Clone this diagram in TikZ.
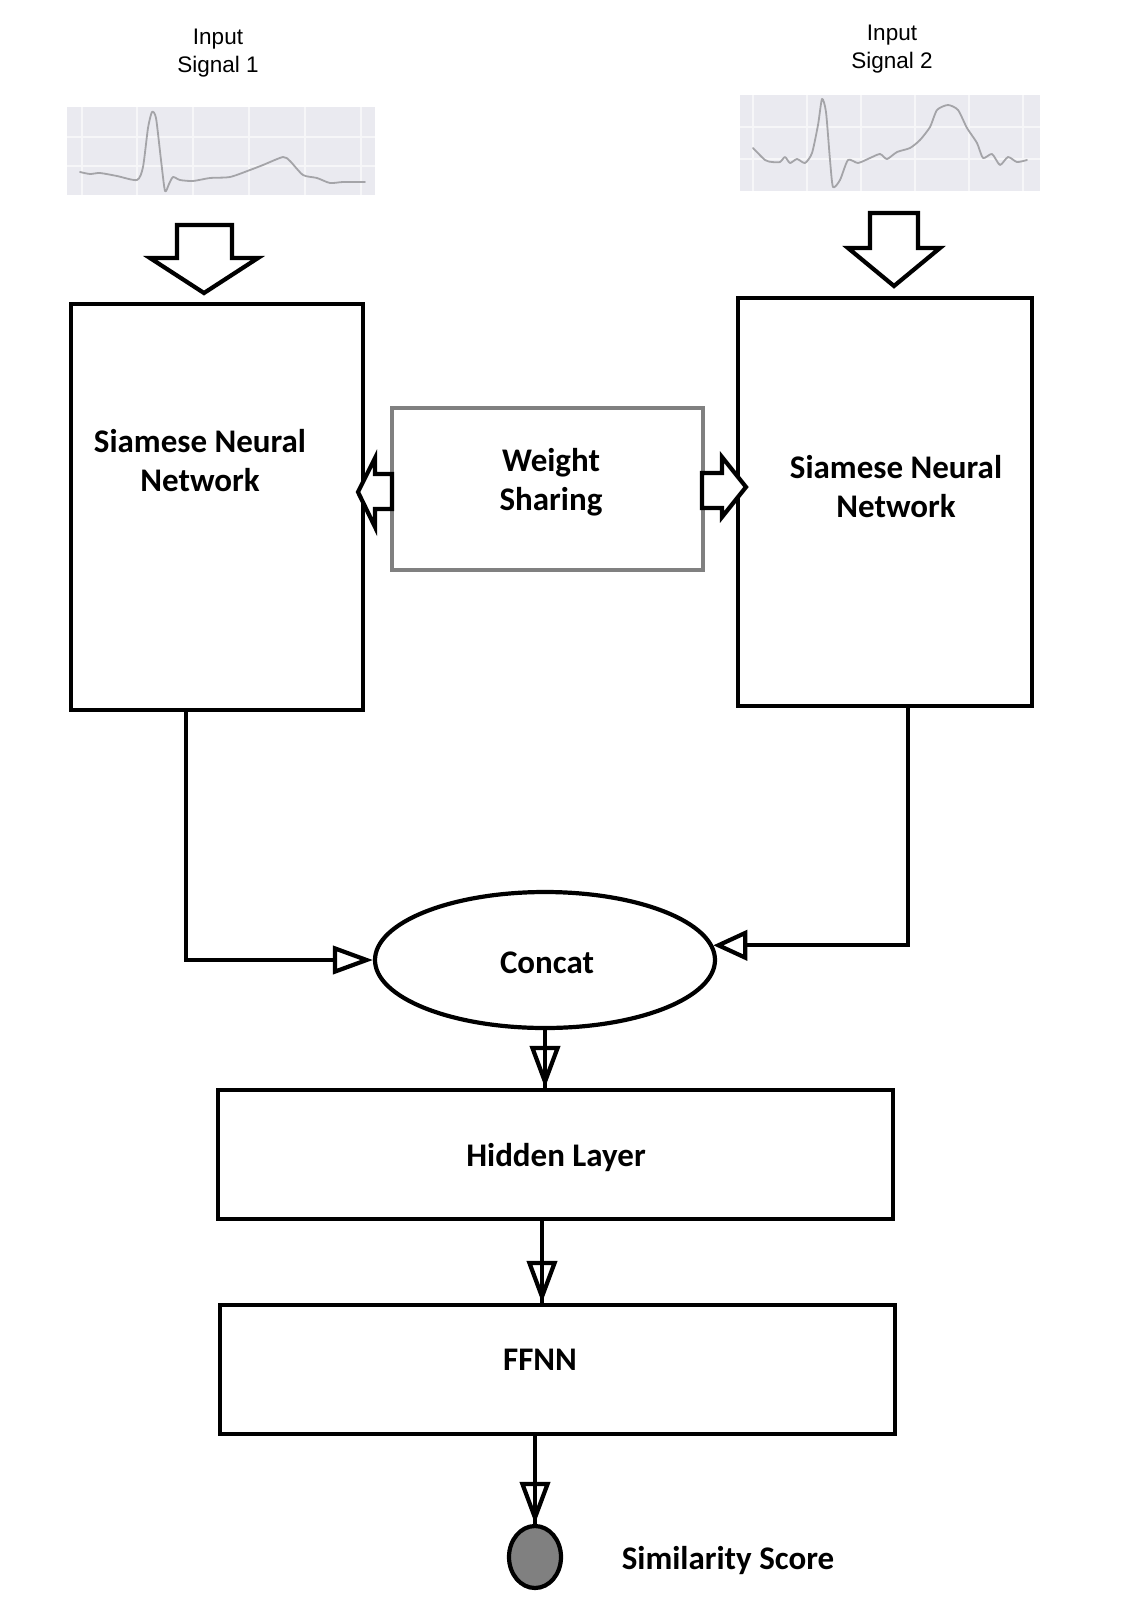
\documentclass[tikz,border=0pt]{standalone}
\usepackage{fontspec}
\setmainfont{Carlito}
\newfontfamily\arialf{Liberation Sans}
\usetikzlibrary{arrows.meta,shapes.geometric,calc}
\definecolor{ecgbg}{HTML}{EAEAF0}
\definecolor{ecgline}{HTML}{A4A4A8}
\definecolor{ecggrid}{HTML}{F6F6F8}
\definecolor{wsgray}{HTML}{808080}
\begin{document}
\begin{tikzpicture}[x=1pt,y=-1pt,
  thick box/.style={draw,line width=4.2pt,rectangle,inner sep=0pt,fill=white},
  lbl/.style={font=\bfseries\fontsize{33}{39}\selectfont,align=center,inner sep=0pt},
  inlbl/.style={font=\arialf\fontsize{22.5}{28}\selectfont,align=center,inner sep=0pt},
  ecg/.style={fill=ecgbg,draw=none,rectangle,inner sep=0pt},
  grid line/.style={ecggrid,line width=1.2pt},
  trace/.style={ecgline,line width=1.8pt,line join=round,line cap=round},
  conn/.style={line width=4.2pt},
  blockarrow/.style={draw,fill=white,line width=4.2pt,line join=miter},
  tipa/.style={-{Triangle[open,length=40pt,width=28pt]}},
  tipb/.style={-{Triangle[open,length=34pt,width=30pt]}},
  tipv/.style={-{Triangle[open,length=42pt,width=30pt]}}
]
\useasboundingbox[fill=white] (0,0) rectangle (1123,1615);

% ---- input signals ----
\node[inlbl] (in1) at (218,53) {Input\\Signal 1};
\node[inlbl] (in2) at (892,49) {Input\\Signal 2};

\node[ecg,minimum width=308pt,minimum height=88pt] (sig1) at (221,151) {};
\foreach \gx in {82,137,193,249,305,361}
  \draw[grid line] (\gx,107) -- (\gx,195);
\foreach \gy in {137,166}
  \draw[grid line] (67,\gy) -- (375,\gy);
\draw[trace] plot[smooth,tension=0.4] coordinates {
 (80,172) (90,174) (100,173) (117,176) (137,180) (143,167) (148,128) (152,112) (156,118)
 (161,160) (165,191) (169,184) (173,177) (180,180) (193,181) (210,178) (230,177)
 (250,170) (263,165) (283,157) (290,161) (303,175) (317,178) (330,183) (343,182) (365,182)};

\node[ecg,minimum width=300pt,minimum height=96pt] (sig2) at (890,143) {};
\foreach \gx in {753,807,861,915,969,1023}
  \draw[grid line] (\gx,95) -- (\gx,191);
\foreach \gy in {127,159}
  \draw[grid line] (740,\gy) -- (1040,\gy);
\draw[trace] plot[smooth,tension=0.4] coordinates {
 (753,148) (765,160) (772,162) (780,162) (785,157) (790,163) (797,159) (805,163)
 (812,153) (818,125) (822,99) (826,112) (830,160) (833,187) (840,180) (848,160) (858,163)
 (870,158) (880,154) (887,159) (897,152) (910,148) (920,140) (930,127) (937,110)
 (948,105) (958,110) (967,128) (977,143) (983,158) (992,154) (1000,165) (1008,157)
 (1017,162) (1027,160)};

% ---- main boxes ----
\node[thick box,minimum width=292pt,minimum height=406pt] (snnL) at (217,507) {};
\node[thick box,minimum width=294pt,minimum height=408pt] (snnR) at (885,502) {};
\node[thick box,draw=wsgray,minimum width=311pt,minimum height=162pt] (ws) at (547.5,489) {};
\node[lbl] (snnLt) at (200,461) {Siamese Neural\\Network};
\node[lbl] (snnRt) at (896,487) {Siamese Neural\\Network};
\node[lbl] (wst) at (551,482) {Weight\\Sharing};

\node[draw,ellipse,line width=4.2pt,inner sep=0pt,minimum width=340pt,minimum height=136pt] (concat) at (545,960) {};
\node[lbl] (concatt) at (547,963) {Concat};

\node[thick box,minimum width=675pt,minimum height=129pt] (hidden) at (555.5,1154.5) {};
\node[lbl] (hiddent) at (556,1158) {Hidden Layer};
\node[thick box,minimum width=675pt,minimum height=129pt] (ffnn) at (557.5,1369.5) {};
\node[lbl] (ffnnt) at (540,1360) {FFNN};

\node[draw,ellipse,line width=4.2pt,fill=wsgray,inner sep=0pt,minimum width=52pt,minimum height=62pt] (score) at (535,1557) {};
\node[lbl] (scoret) at (728,1560) {Similarity Score};

% ---- block arrows ----
\draw[blockarrow] (177,225) -- (232,225) -- (232,258) -- (258,258) -- (204,293) -- (150,258) -- (177,258) -- cycle;
\draw[blockarrow] (870,213) -- (918,213) -- (918,248) -- (940,248) -- (894,286) -- (848,248) -- (870,248) -- cycle;
\draw[blockarrow] (392,474) -- (375,474) -- (375,458) -- (358,492) -- (375,527) -- (375,509) -- (392,509) -- cycle;
\draw[blockarrow] (702,473) -- (722,473) -- (722,457) -- (746,487) -- (722,517) -- (722,508) -- (702,508) -- cycle;

% ---- connectors ----
\coordinate (l1) at ([xshift=-31pt]snnL.south);
\coordinate (r1) at ([xshift=23pt]snnR.south);
\coordinate (h1) at ([xshift=-13.5pt]hidden.south);
\draw[conn,tipa] (l1) |- (concat.west);
\draw[conn,tipb] (r1) |- (concat.5);
\draw[conn] (concat.south) -- (concat.south |- hidden.north);
\draw[conn,tipv] (concat.south) -- (concat.south |- hidden.north);
\draw[conn] (h1) -- (h1 |- ffnn.north);
\draw[conn,tipv] (h1) -- (h1 |- ffnn.north);
\draw[conn] (score.north |- ffnn.south) -- (score.north);
\draw[conn,tipv] (score.north |- ffnn.south) -- (score.north);
\end{tikzpicture}
\end{document}
